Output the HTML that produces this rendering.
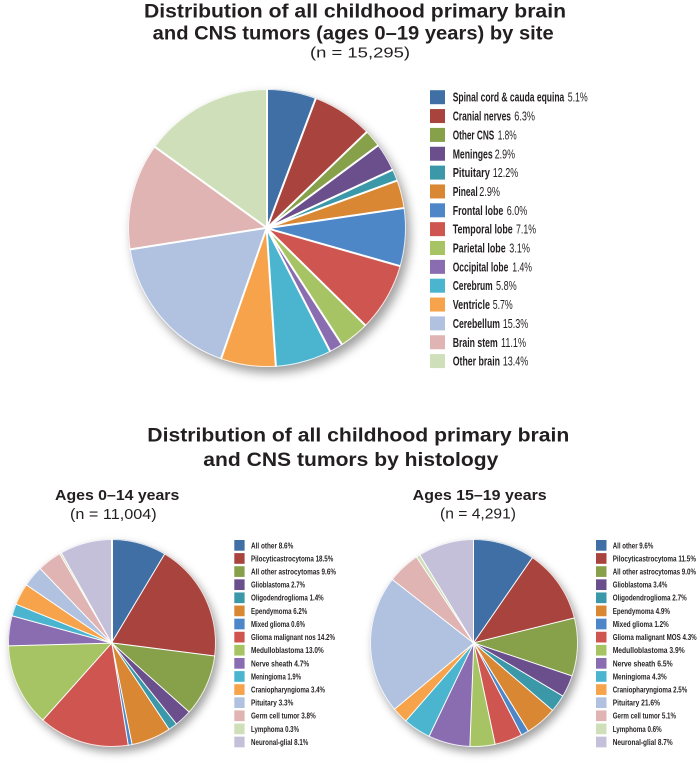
<!DOCTYPE html>
<html><head><meta charset="utf-8">
<style>
html,body{margin:0;padding:0;background:#fff;}
#wrap{position:relative;width:697px;height:779px;overflow:hidden;background:#fff;}
.pie{position:absolute;border-radius:50%;}
#p1{left:128px;top:89px;width:278px;height:278px;
box-shadow:4px 6px 10px rgba(0,0,0,0.38), inset 0 0 0 1px rgba(255,255,255,0.85);
background:conic-gradient(#3f6fa5 0deg 20.61deg,#a8443d 20.61deg 46.06deg,#87a04a 46.06deg 53.33deg,#6a4f8c 53.33deg 65.05deg,#3b98a8 65.05deg 69.90deg,#d98733 69.90deg 81.62deg,#4e87c7 81.62deg 105.86deg,#cf5650 105.86deg 134.55deg,#a7c464 134.55deg 147.07deg,#8a6db0 147.07deg 152.73deg,#4bb5cf 152.73deg 176.16deg,#f6a34b 176.16deg 199.19deg,#b0c2e0 199.19deg 261.01deg,#e0b4b3 261.01deg 305.86deg,#cfdfba 305.86deg 360deg);}
#p2{left:8px;top:539px;width:208px;height:208px;
box-shadow:3px 5px 9px rgba(0,0,0,0.38), inset 0 0 0 1px rgba(255,255,255,0.85);
background:conic-gradient(#3f6fa5 0deg 30.87deg,#a8443d 30.87deg 97.27deg,#87a04a 97.27deg 131.72deg,#6a4f8c 131.72deg 141.41deg,#3b98a8 141.41deg 146.44deg,#d98733 146.44deg 168.69deg,#4e87c7 168.69deg 170.85deg,#cf5650 170.85deg 221.81deg,#a7c464 221.81deg 268.47deg,#8a6db0 268.47deg 285.34deg,#4bb5cf 285.34deg 292.16deg,#f6a34b 292.16deg 304.36deg,#b0c2e0 304.36deg 316.21deg,#e0b4b3 316.21deg 329.85deg,#cfdfba 329.85deg 330.92deg,#c4c0da 330.92deg 360deg);}
#p3{left:369.5px;top:539px;width:208px;height:208px;
box-shadow:3px 5px 9px rgba(0,0,0,0.38), inset 0 0 0 1px rgba(255,255,255,0.85);
background:conic-gradient(#3f6fa5 0deg 34.63deg,#a8443d 34.63deg 76.11deg,#87a04a 76.11deg 108.58deg,#6a4f8c 108.58deg 120.84deg,#3b98a8 120.84deg 130.58deg,#d98733 130.58deg 148.26deg,#4e87c7 148.26deg 152.58deg,#cf5650 152.58deg 168.10deg,#a7c464 168.10deg 182.16deg,#8a6db0 182.16deg 205.61deg,#4bb5cf 205.61deg 221.12deg,#f6a34b 221.12deg 230.14deg,#b0c2e0 230.14deg 308.06deg,#e0b4b3 308.06deg 326.45deg,#cfdfba 326.45deg 328.62deg,#c4c0da 328.62deg 360deg);}
.w{position:absolute;}
.w i{position:absolute;left:0;top:0;background:#fff;transform-origin:50% 100%;}
#w1{left:266.2px;top:89px;width:1.6px;height:139px;}
#w1 i{width:1.6px;height:139px;}
#w2{left:111.35px;top:539px;width:1.3px;height:104px;}
#w2 i{width:1.3px;height:104px;}
#w3{left:472.85px;top:539px;width:1.3px;height:104px;}
#w3 i{width:1.3px;height:104px;}
svg{position:absolute;left:0;top:0;}
.b{font-family:"Liberation Sans",Arial,sans-serif;font-weight:bold;fill:#231f20;}
.r{font-family:"Liberation Sans",Arial,sans-serif;font-weight:normal;fill:#231f20;}
</style></head>
<body><div id="wrap">
<div class="pie" id="p1"></div>
<div class="w" id="w1">
<i style="transform:rotate(0deg)"></i><i style="transform:rotate(20.61deg)"></i><i style="transform:rotate(46.06deg)"></i><i style="transform:rotate(53.33deg)"></i><i style="transform:rotate(65.05deg)"></i><i style="transform:rotate(69.90deg)"></i><i style="transform:rotate(81.62deg)"></i><i style="transform:rotate(105.86deg)"></i><i style="transform:rotate(134.55deg)"></i><i style="transform:rotate(147.07deg)"></i><i style="transform:rotate(152.73deg)"></i><i style="transform:rotate(176.16deg)"></i><i style="transform:rotate(199.19deg)"></i><i style="transform:rotate(261.01deg)"></i><i style="transform:rotate(305.86deg)"></i>
</div>
<div class="pie" id="p2"></div>
<div class="w" id="w2">
<i style="transform:rotate(0deg)"></i><i style="transform:rotate(30.87deg)"></i><i style="transform:rotate(97.27deg)"></i><i style="transform:rotate(131.72deg)"></i><i style="transform:rotate(141.41deg)"></i><i style="transform:rotate(146.44deg)"></i><i style="transform:rotate(168.69deg)"></i><i style="transform:rotate(170.85deg)"></i><i style="transform:rotate(221.81deg)"></i><i style="transform:rotate(268.47deg)"></i><i style="transform:rotate(285.34deg)"></i><i style="transform:rotate(292.16deg)"></i><i style="transform:rotate(304.36deg)"></i><i style="transform:rotate(316.21deg)"></i><i style="transform:rotate(329.85deg)"></i><i style="transform:rotate(330.92deg)"></i>
</div>
<div class="pie" id="p3"></div>
<div class="w" id="w3">
<i style="transform:rotate(0deg)"></i><i style="transform:rotate(34.63deg)"></i><i style="transform:rotate(76.11deg)"></i><i style="transform:rotate(108.58deg)"></i><i style="transform:rotate(120.84deg)"></i><i style="transform:rotate(130.58deg)"></i><i style="transform:rotate(148.26deg)"></i><i style="transform:rotate(152.58deg)"></i><i style="transform:rotate(168.10deg)"></i><i style="transform:rotate(182.16deg)"></i><i style="transform:rotate(205.61deg)"></i><i style="transform:rotate(221.12deg)"></i><i style="transform:rotate(230.14deg)"></i><i style="transform:rotate(308.06deg)"></i><i style="transform:rotate(326.45deg)"></i><i style="transform:rotate(328.62deg)"></i>
</div>

<svg width="697" height="779" viewBox="0 0 697 779" xmlns="http://www.w3.org/2000/svg">
<!-- Titles -->
<text class="b" x="144" y="17.3" font-size="19" textLength="422" lengthAdjust="spacingAndGlyphs">Distribution of all childhood primary brain</text>
<text class="b" x="152.7" y="39.5" font-size="19" textLength="401" lengthAdjust="spacingAndGlyphs">and CNS tumors (ages 0–19 years) by site</text>
<text class="r" x="310" y="57.5" font-size="15" textLength="100" lengthAdjust="spacingAndGlyphs">(n = 15,295)</text>

<text class="b" x="147.3" y="441.7" font-size="19.5" textLength="422" lengthAdjust="spacingAndGlyphs">Distribution of all childhood primary brain</text>
<text class="b" x="203.3" y="466" font-size="19.5" textLength="295" lengthAdjust="spacingAndGlyphs">and CNS tumors by histology</text>

<text class="b" x="55" y="500" font-size="15" textLength="124.3" lengthAdjust="spacingAndGlyphs">Ages 0–14 years</text>
<text class="r" x="70" y="519" font-size="14.5" textLength="86.7" lengthAdjust="spacingAndGlyphs">(n = 11,004)</text>
<text class="b" x="412.7" y="500" font-size="15" textLength="134" lengthAdjust="spacingAndGlyphs">Ages 15–19 years</text>
<text class="r" x="440" y="518.7" font-size="14.5" textLength="76" lengthAdjust="spacingAndGlyphs">(n = 4,291)</text>

<!-- Legend 1 -->
<g>
<rect x="430" y="90.2" width="15" height="14" fill="#3f6fa5"/>
<rect x="430" y="109.05" width="15" height="14" fill="#a8443d"/>
<rect x="430" y="127.9" width="15" height="14" fill="#87a04a"/>
<rect x="430" y="146.75" width="15" height="14" fill="#6a4f8c"/>
<rect x="430" y="165.6" width="15" height="14" fill="#3b98a8"/>
<rect x="430" y="184.45" width="15" height="14" fill="#d98733"/>
<rect x="430" y="203.3" width="15" height="14" fill="#4e87c7"/>
<rect x="430" y="222.15" width="15" height="14" fill="#cf5650"/>
<rect x="430" y="241" width="15" height="14" fill="#a7c464"/>
<rect x="430" y="259.85" width="15" height="14" fill="#8a6db0"/>
<rect x="430" y="278.7" width="15" height="14" fill="#4bb5cf"/>
<rect x="430" y="297.55" width="15" height="14" fill="#f6a34b"/>
<rect x="430" y="316.4" width="15" height="14" fill="#b0c2e0"/>
<rect x="430" y="335.25" width="15" height="14" fill="#e0b4b3"/>
<rect x="430" y="354.1" width="15" height="14" fill="#cfdfba"/>
</g>
<g font-size="12.5">
<text class="b" x="452.7" y="101.7" textLength="111.6" lengthAdjust="spacingAndGlyphs">Spinal cord &amp; cauda equina</text>
<text class="r" x="567.7" y="101.7" textLength="20" lengthAdjust="spacingAndGlyphs">5.1%</text>
<text class="b" x="452.7" y="120.55" textLength="58.3" lengthAdjust="spacingAndGlyphs">Cranial nerves</text>
<text class="r" x="514.3" y="120.55" textLength="20.7" lengthAdjust="spacingAndGlyphs">6.3%</text>
<text class="b" x="452.7" y="139.4" textLength="41.6" lengthAdjust="spacingAndGlyphs">Other CNS</text>
<text class="r" x="497.7" y="139.4" textLength="19" lengthAdjust="spacingAndGlyphs">1.8%</text>
<text class="b" x="452.7" y="158.25" textLength="40" lengthAdjust="spacingAndGlyphs">Meninges</text>
<text class="r" x="494.7" y="158.25" textLength="20.3" lengthAdjust="spacingAndGlyphs">2.9%</text>
<text class="b" x="452.7" y="177.1" textLength="37.3" lengthAdjust="spacingAndGlyphs">Pituitary</text>
<text class="r" x="492.7" y="177.1" textLength="25.6" lengthAdjust="spacingAndGlyphs">12.2%</text>
<text class="b" x="452.7" y="195.95" textLength="25" lengthAdjust="spacingAndGlyphs">Pineal</text>
<text class="r" x="479.3" y="195.95" textLength="20.7" lengthAdjust="spacingAndGlyphs">2.9%</text>
<text class="b" x="452.7" y="214.8" textLength="50.6" lengthAdjust="spacingAndGlyphs">Frontal lobe</text>
<text class="r" x="506.7" y="214.8" textLength="20.6" lengthAdjust="spacingAndGlyphs">6.0%</text>
<text class="b" x="452.7" y="233.65" textLength="60" lengthAdjust="spacingAndGlyphs">Temporal lobe</text>
<text class="r" x="516" y="233.65" textLength="20" lengthAdjust="spacingAndGlyphs">7.1%</text>
<text class="b" x="452.7" y="252.5" textLength="53" lengthAdjust="spacingAndGlyphs">Parietal lobe</text>
<text class="r" x="509.3" y="252.5" textLength="20.7" lengthAdjust="spacingAndGlyphs">3.1%</text>
<text class="b" x="452.7" y="271.35" textLength="55.6" lengthAdjust="spacingAndGlyphs">Occipital lobe</text>
<text class="r" x="512.3" y="271.35" textLength="19.7" lengthAdjust="spacingAndGlyphs">1.4%</text>
<text class="b" x="452.7" y="290.2" textLength="40" lengthAdjust="spacingAndGlyphs">Cerebrum</text>
<text class="r" x="496" y="290.2" textLength="20.7" lengthAdjust="spacingAndGlyphs">5.8%</text>
<text class="b" x="452.7" y="309.05" textLength="37.3" lengthAdjust="spacingAndGlyphs">Ventricle</text>
<text class="r" x="492.7" y="309.05" textLength="20" lengthAdjust="spacingAndGlyphs">5.7%</text>
<text class="b" x="452.7" y="327.9" textLength="47.3" lengthAdjust="spacingAndGlyphs">Cerebellum</text>
<text class="r" x="502.7" y="327.9" textLength="25.6" lengthAdjust="spacingAndGlyphs">15.3%</text>
<text class="b" x="452.7" y="346.75" textLength="45" lengthAdjust="spacingAndGlyphs">Brain stem</text>
<text class="r" x="501" y="346.75" textLength="25" lengthAdjust="spacingAndGlyphs">11.1%</text>
<text class="b" x="452.7" y="365.6" textLength="47.3" lengthAdjust="spacingAndGlyphs">Other brain</text>
<text class="r" x="502.7" y="365.6" textLength="25.6" lengthAdjust="spacingAndGlyphs">13.4%</text>
</g>

<!-- Legend 2 -->
<g>
<rect x="234.3" y="540" width="10.3" height="10.7" fill="#3f6fa5"/>
<rect x="234.3" y="553.11" width="10.3" height="10.7" fill="#a8443d"/>
<rect x="234.3" y="566.22" width="10.3" height="10.7" fill="#87a04a"/>
<rect x="234.3" y="579.33" width="10.3" height="10.7" fill="#6a4f8c"/>
<rect x="234.3" y="592.44" width="10.3" height="10.7" fill="#3b98a8"/>
<rect x="234.3" y="605.55" width="10.3" height="10.7" fill="#d98733"/>
<rect x="234.3" y="618.66" width="10.3" height="10.7" fill="#4e87c7"/>
<rect x="234.3" y="631.77" width="10.3" height="10.7" fill="#cf5650"/>
<rect x="234.3" y="644.88" width="10.3" height="10.7" fill="#a7c464"/>
<rect x="234.3" y="657.99" width="10.3" height="10.7" fill="#8a6db0"/>
<rect x="234.3" y="671.1" width="10.3" height="10.7" fill="#4bb5cf"/>
<rect x="234.3" y="684.21" width="10.3" height="10.7" fill="#f6a34b"/>
<rect x="234.3" y="697.32" width="10.3" height="10.7" fill="#b0c2e0"/>
<rect x="234.3" y="710.43" width="10.3" height="10.7" fill="#e0b4b3"/>
<rect x="234.3" y="723.54" width="10.3" height="10.7" fill="#cfdfba"/>
<rect x="234.3" y="736.65" width="10.3" height="10.7" fill="#c4c0da"/>
</g>
<g font-size="8.6" class="b">
<text class="b" x="251" y="548.3" textLength="42.3" lengthAdjust="spacingAndGlyphs">All other 8.6%</text>
<text class="b" x="251" y="561.41" textLength="82.3" lengthAdjust="spacingAndGlyphs">Pilocyticastrocytoma 18.5%</text>
<text class="b" x="251" y="574.52" textLength="85" lengthAdjust="spacingAndGlyphs">All other astrocytomas 9.6%</text>
<text class="b" x="251" y="587.63" textLength="54" lengthAdjust="spacingAndGlyphs">Glioblastoma 2.7%</text>
<text class="b" x="251" y="600.74" textLength="72.7" lengthAdjust="spacingAndGlyphs">Oligodendroglioma 1.4%</text>
<text class="b" x="251" y="613.85" textLength="56.3" lengthAdjust="spacingAndGlyphs">Ependymoma 6.2%</text>
<text class="b" x="251" y="626.96" textLength="54" lengthAdjust="spacingAndGlyphs">Mixed glioma 0.6%</text>
<text class="b" x="251" y="640.07" textLength="84" lengthAdjust="spacingAndGlyphs">Glioma malignant nos 14.2%</text>
<text class="b" x="251" y="653.18" textLength="72.7" lengthAdjust="spacingAndGlyphs">Medulloblastoma 13.0%</text>
<text class="b" x="251" y="666.29" textLength="58.3" lengthAdjust="spacingAndGlyphs">Nerve sheath 4.7%</text>
<text class="b" x="251" y="679.4" textLength="50" lengthAdjust="spacingAndGlyphs">Meningioma 1.9%</text>
<text class="b" x="251" y="692.51" textLength="74" lengthAdjust="spacingAndGlyphs">Craniopharyngioma 3.4%</text>
<text class="b" x="251" y="705.62" textLength="42.3" lengthAdjust="spacingAndGlyphs">Pituitary 3.3%</text>
<text class="b" x="251" y="718.73" textLength="64.7" lengthAdjust="spacingAndGlyphs">Germ cell tumor 3.8%</text>
<text class="b" x="251" y="731.84" textLength="48" lengthAdjust="spacingAndGlyphs">Lymphoma 0.3%</text>
<text class="b" x="251" y="744.95" textLength="57.3" lengthAdjust="spacingAndGlyphs">Neuronal-glial 8.1%</text>
</g>

<!-- Legend 3 -->
<g>
<rect x="596" y="540" width="10.5" height="10.7" fill="#3f6fa5"/>
<rect x="596" y="553.11" width="10.5" height="10.7" fill="#a8443d"/>
<rect x="596" y="566.22" width="10.5" height="10.7" fill="#87a04a"/>
<rect x="596" y="579.33" width="10.5" height="10.7" fill="#6a4f8c"/>
<rect x="596" y="592.44" width="10.5" height="10.7" fill="#3b98a8"/>
<rect x="596" y="605.55" width="10.5" height="10.7" fill="#d98733"/>
<rect x="596" y="618.66" width="10.5" height="10.7" fill="#4e87c7"/>
<rect x="596" y="631.77" width="10.5" height="10.7" fill="#cf5650"/>
<rect x="596" y="644.88" width="10.5" height="10.7" fill="#a7c464"/>
<rect x="596" y="657.99" width="10.5" height="10.7" fill="#8a6db0"/>
<rect x="596" y="671.1" width="10.5" height="10.7" fill="#4bb5cf"/>
<rect x="596" y="684.21" width="10.5" height="10.7" fill="#f6a34b"/>
<rect x="596" y="697.32" width="10.5" height="10.7" fill="#b0c2e0"/>
<rect x="596" y="710.43" width="10.5" height="10.7" fill="#e0b4b3"/>
<rect x="596" y="723.54" width="10.5" height="10.7" fill="#cfdfba"/>
<rect x="596" y="736.65" width="10.5" height="10.7" fill="#c4c0da"/>
</g>
<g font-size="8.6">
<text class="b" x="612.7" y="548.3" textLength="40.6" lengthAdjust="spacingAndGlyphs">All other 9.6%</text>
<text class="b" x="612.7" y="561.41" textLength="83.3" lengthAdjust="spacingAndGlyphs">Pilocyticastrocytoma 11.5%</text>
<text class="b" x="612.7" y="574.52" textLength="83.3" lengthAdjust="spacingAndGlyphs">All other astrocytomas 9.0%</text>
<text class="b" x="612.7" y="587.63" textLength="54.6" lengthAdjust="spacingAndGlyphs">Glioblastoma 3.4%</text>
<text class="b" x="612.7" y="600.74" textLength="74" lengthAdjust="spacingAndGlyphs">Oligodendroglioma 2.7%</text>
<text class="b" x="612.7" y="613.85" textLength="57.3" lengthAdjust="spacingAndGlyphs">Ependymoma 4.9%</text>
<text class="b" x="612.7" y="626.96" textLength="56" lengthAdjust="spacingAndGlyphs">Mixed glioma 1.2%</text>
<text class="b" x="612.7" y="640.07" textLength="84" lengthAdjust="spacingAndGlyphs">Glioma malignant MOS 4.3%</text>
<text class="b" x="612.7" y="653.18" textLength="72" lengthAdjust="spacingAndGlyphs">Medulloblastoma 3.9%</text>
<text class="b" x="612.7" y="666.29" textLength="60" lengthAdjust="spacingAndGlyphs">Nerve sheath 6.5%</text>
<text class="b" x="612.7" y="679.4" textLength="54" lengthAdjust="spacingAndGlyphs">Meningioma 4.3%</text>
<text class="b" x="612.7" y="692.51" textLength="74.6" lengthAdjust="spacingAndGlyphs">Craniopharyngioma 2.5%</text>
<text class="b" x="612.7" y="705.62" textLength="47.3" lengthAdjust="spacingAndGlyphs">Pituitary 21.6%</text>
<text class="b" x="612.7" y="718.73" textLength="63.3" lengthAdjust="spacingAndGlyphs">Germ cell tumor 5.1%</text>
<text class="b" x="612.7" y="731.84" textLength="49" lengthAdjust="spacingAndGlyphs">Lymphoma 0.6%</text>
<text class="b" x="612.7" y="744.95" textLength="60" lengthAdjust="spacingAndGlyphs">Neuronal-glial 8.7%</text>
</g>
</svg>
</div></body></html>
